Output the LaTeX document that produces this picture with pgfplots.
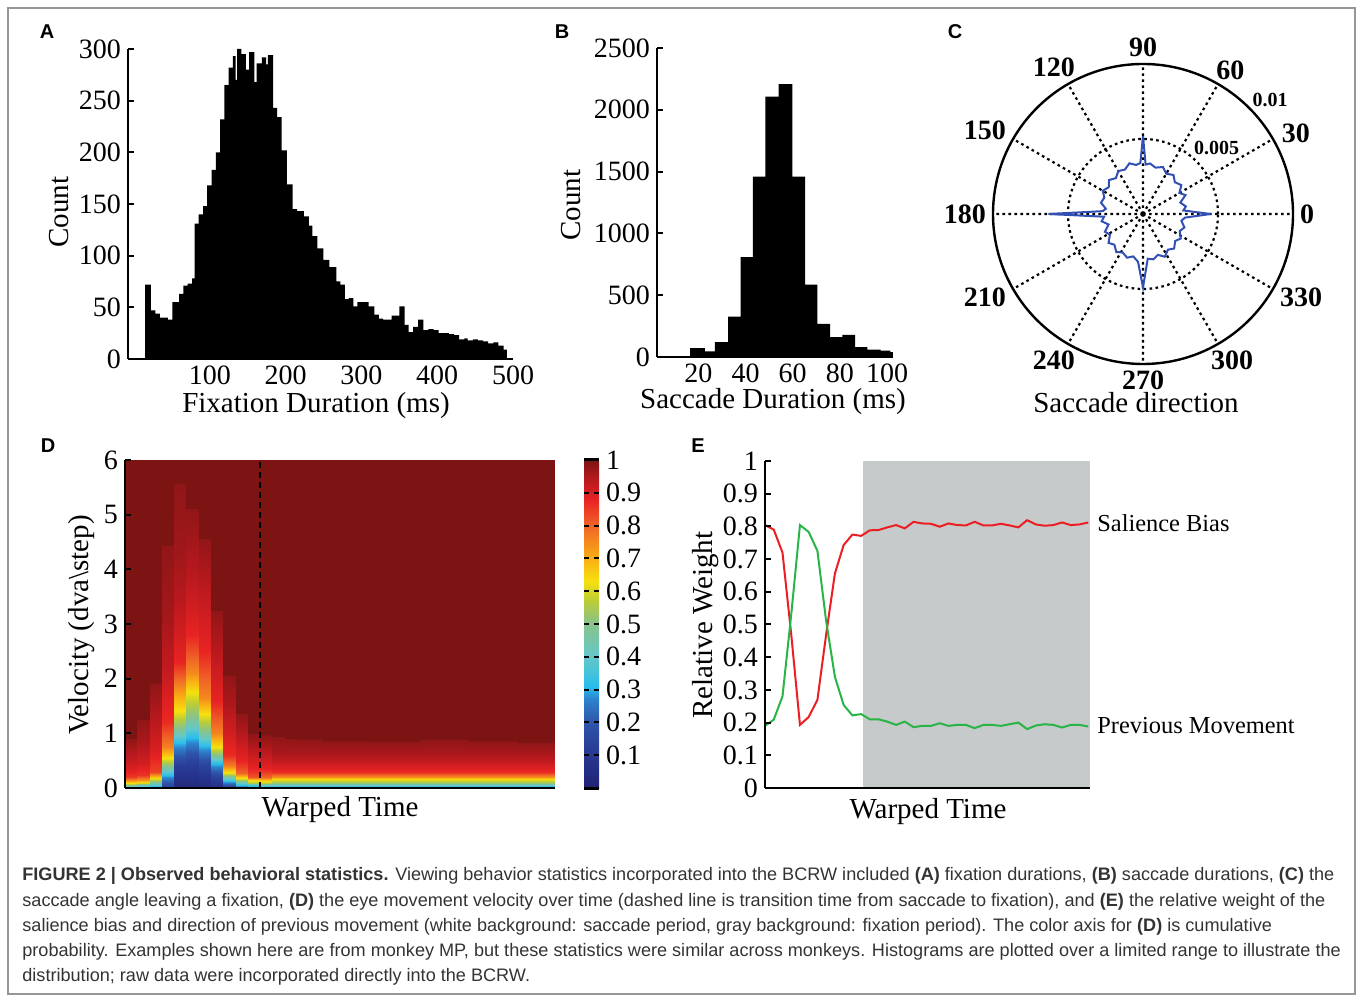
\documentclass[border=0pt]{standalone}
\usepackage{fontspec}
\setmainfont{Liberation Serif}
\newfontfamily\arial{Liberation Sans}
\usepackage{pgfplots}
\usepgfplotslibrary{polar}
\pgfplotsset{compat=1.18}
\definecolor{capgray}{RGB}{51,51,51}
\definecolor{framegray}{RGB}{150,150,150}
\definecolor{fixgray}{RGB}{198,202,202}
\definecolor{cblue}{RGB}{50,80,180}
\definecolor{sred}{RGB}{235,30,35}
\definecolor{pgreen}{RGB}{40,180,70}
\pgfplotsset{
  colormap={bcrw}{rgb255(0pt)=(30,35,115) rgb255(10pt)=(40,55,145) rgb255(20pt)=(45,85,170)
    rgb255(27pt)=(45,130,205) rgb255(31pt)=(40,190,235) rgb255(40pt)=(100,200,200)
    rgb255(50pt)=(135,195,140) rgb255(57pt)=(185,205,55) rgb255(63pt)=(245,225,15)
    rgb255(70pt)=(250,175,20) rgb255(80pt)=(240,100,40) rgb255(88pt)=(232,35,35)
    rgb255(94pt)=(185,25,30) rgb255(100pt)=(125,20,20)},
  mat/.style={scale only axis, axis x line*=bottom, axis y line*=left,
    axis line style={line width=1.3pt, -}, tick align=inside, major tick length=3pt,
    tick style={line width=1pt, black}, xtick style={draw=none},
    tick label style={font=\fontsize{14}{14}\selectfont}},
}
\newcommand{\lab}{\fontsize{14.5}{14.5}\selectfont}
\newcommand{\capfont}{\arial\fontsize{9.05}{10}\selectfont\color{capgray}}

\begin{document}
% picture units: 1 unit = one pixel of the 1358x995 reference, y measured from the bottom
\begin{tikzpicture}[x=0.5pt, y=0.5pt]
\useasboundingbox (0,0) rectangle (1358,995);
\draw[framegray, line width=0.75pt] (8,1) rectangle (1355,987);
\foreach \l/\px/\py in {A/47/963, B/562/963, C/955/963, D/48/549, E/698/549}
  \node[font=\arial\bfseries\fontsize{10}{10}\selectfont] at (\px,\py) {\l};

% ---- A: fixation durations
\begin{axis}[mat, at={(64pt,318pt)}, anchor=south west, width=192.5pt, height=155pt,
  xmin=-8, xmax=500, ymin=0, ymax=300,
  xtick={100,200,300,400,500}, xticklabels={100,200,300,400,500},
  ytick={0,50,100,150,200,250,300}, yticklabels={0,50,100,150,200,250,300}]
\addplot[fill=black, draw=none, const plot] coordinates {
  (14.5,72)(22.2,47)(28.0,44)(33.9,40)(39.3,40)(44.7,38)(50.6,55)(59.6,63)(65.0,71)(70.8,73)
  (76.7,78)(79.8,131)(85.2,140)(91.1,148)(96.5,168)(102.4,183)(107.8,200)(113.6,232)(119.0,265)
  (124.9,282)(130.3,293)(133.9,270)(136.1,300)(141.5,295)(147.4,280)(151.9,297)(158.7,268)
  (161.8,286)(168.6,292)(174.4,285)(176.7,294)(183.4,243)(188.8,234)(194.7,202)(201.5,169)
  (209.1,145)(215.0,143)(224.0,138)(230.7,129)(235.2,119)(242.0,107)(249.7,96)(257.8,89)
  (266.8,75)(272.2,72)(278.0,58)(283.4,59)(289.3,51)(294.7,55)(300.6,55)(309.6,51)(317.2,43)
  (323.1,39)(328.5,38)(334.3,38)(339.7,42)(350.1,51)(356.9,33)(362.3,26)(368.1,31)(374.9,38)
  (381.6,28)(388.4,29)(395.2,28)(401.9,25)(408.7,25)(415.4,24)(422.2,23)(428.9,19)(435.7,20)
  (440.2,18)(447.0,19)(453.7,18)(460.5,17)(467.3,15)(474.0,16)(480.8,13)(487.5,9)(492.0,9)
} \closedcycle;
\end{axis}
\node[font=\lab] at (316,589) {Fixation Duration (ms)};
\node[font=\lab, rotate=90] at (59,783) {Count};

% ---- B: saccade durations
\begin{axis}[mat, at={(328.5pt,319pt)}, anchor=south west, width=118pt, height=154.5pt,
  xmin=2.5, xmax=102.5, ymin=0, ymax=2500,
  xtick={20,40,60,80,100}, xticklabels={20,40,60,80,100},
  ytick={0,500,1000,1500,2000,2500}, yticklabels={0,500,1000,1500,2000,2500}]
\addplot[fill=black, draw=none, const plot] coordinates {
  (16.5,72)(22.8,45)(27,120)(32.6,327)(37.9,808)(43.1,1459)(48.4,2107)(54,2208)(59.9,1459)
  (65.3,586)(70.5,268)(75.8,161)(81,179)(86.4,80)(91.6,59)(97.2,51)(101.4,40)(102.4,40)
} \closedcycle;
\end{axis}
\node[font=\lab] at (773,593) {Saccade Duration (ms)};
\node[font=\lab, rotate=90] at (571,790) {Count};

% ---- C: saccade direction
\begin{polaraxis}[at={(571.5pt,390.5pt)}, anchor=center, scale only axis, width=150pt, height=150pt,
  ymin=0, ymax=0.01, xtick={0,30,...,330},
  xticklabels={0,30,60,90,120,150,180,210,240,270,300,330},
  ytick={0.005}, yticklabels={}, scaled y ticks=false, grid=major,
  major grid style={black, line width=1.1pt, dash pattern=on 1.3pt off 1.7pt},
  x axis line style={line width=1.2pt}, y axis line style={draw=none}, major tick length=0pt,
  xticklabel style={font=\bfseries\fontsize{14}{14}\selectfont,
    yshift={-4.6pt*abs(sin(2*\tick))*sin(\tick)/max(abs(sin(\tick)),0.01)}},
  clip=false]
\addplot[cblue, line width=1pt, no markers] coordinates {
  (0,0.0045)(5,0.0027)(10,0.0029)(17,0.0026)(24,0.0031)(30,0.0028)(37,0.0032)(45,0.003)
  (52,0.0033)(60,0.0031)(67,0.0034)(75,0.0032)(82,0.0034)(87,0.0033)(90,0.0052)(93,0.0034)
  (98,0.0033)(105,0.0035)(112,0.0032)(120,0.0033)(127,0.003)(135,0.0032)(142,0.0029)
  (150,0.0031)(157,0.0028)(165,0.0029)(172,0.0025)(176,0.0027)(180,0.0063)(184,0.0026)
  (190,0.0028)(197,0.0024)(205,0.0028)(212,0.0026)(220,0.003)(227,0.0028)(235,0.0031)
  (242,0.0029)(250,0.0031)(257,0.0029)(264,0.0032)(270,0.0049)(276,0.003)(283,0.0031)
  (290,0.0029)(297,0.0032)(305,0.0029)(312,0.0031)(320,0.0028)(327,0.003)(335,0.0027)
  (342,0.0029)(350,0.0026)(355,0.0028)(360,0.0045)};
\node[font=\bfseries\fontsize{10}{10}\selectfont] at (axis cs:42,0.0066) {0.005};
\node[font=\bfseries\fontsize{10}{10}\selectfont] at (axis cs:42,0.0114) {0.01};
\end{polaraxis}
\node[font=\lab] at (1136,592) {Saccade direction};

% ---- D: velocity over warped time (cumulative probability)
\begin{axis}[mat, at={(62.5pt,103.5pt)}, anchor=south west, width=215pt, height=164pt,
  xmin=0, xmax=35, ymin=0, ymax=6, xtick=\empty,
  ytick={0,1,2,3,4,5,6}, yticklabels={0,1,2,3,4,5,6},
  axis on top, enlargelimits=false, colormap name=bcrw,
  point meta min=0, point meta max=1, colorbar,
  colorbar style={at={(parent axis.north east)}, anchor=north west, xshift=6pt,
    scale only axis, width=7.5pt, height=164pt,
    ytick={0.1,0.2,0.3,0.4,0.5,0.6,0.7,0.8,0.9,1},
    yticklabels={0.1,0.2,0.3,0.4,0.5,0.6,0.7,0.8,0.9,1},
    ytick pos=both, yticklabel pos=right, tick align=inside, major tick length=2.6pt,
    ytick style={black, line width=1pt}, axis line style={draw=none},
    yticklabel style={font=\fontsize{14}{14}\selectfont},
    extra description/.code={
      \draw[line width=1.5pt] (rel axis cs:0,0)--(rel axis cs:1,0);
      \draw[line width=1.5pt] (rel axis cs:0,1)--(rel axis cs:1,1);}}]
\addplot[surf, shader=interp, mesh/ordering=y varies, mesh/rows=11, mesh/cols=40,
  point meta=explicit] table[meta=c, row sep=\\] {
x y c\\
0 0 0.30\\ 0 0.04 0.42\\ 0 0.08 0.58\\ 0 0.13 0.72\\ 0 0.2 0.85\\ 0 0.35 0.9\\ 0 0.6 0.94\\ 0 0.75 0.96\\ 0 0.9 0.98\\ 0 0.92 1\\ 0 6 1\\
1 0 0.30\\ 1 0.04 0.42\\ 1 0.08 0.58\\ 1 0.13 0.72\\ 1 0.2 0.85\\ 1 0.35 0.9\\ 1 0.6 0.94\\ 1 0.75 0.96\\ 1 0.9 0.98\\ 1 0.92 1\\ 1 6 1\\
1 0 0.30\\ 1 0.05 0.42\\ 1 0.1 0.6\\ 1 0.15 0.74\\ 1 0.24 0.86\\ 1 0.45 0.91\\ 1 0.8 0.95\\ 1 1.0 0.965\\ 1 1.24 0.98\\ 1 1.26 1\\ 1 6 1\\
2 0 0.30\\ 2 0.05 0.42\\ 2 0.1 0.6\\ 2 0.15 0.74\\ 2 0.24 0.86\\ 2 0.45 0.91\\ 2 0.8 0.95\\ 2 1.0 0.965\\ 2 1.24 0.98\\ 2 1.26 1\\ 2 6 1\\
2 0 0.22\\ 2 0.08 0.42\\ 2 0.18 0.64\\ 2 0.3 0.84\\ 2 0.7 0.9\\ 2 1.1 0.93\\ 2 1.4 0.95\\ 2 1.65 0.965\\ 2 1.9 0.98\\ 2 1.92 1\\ 2 6 1\\
3 0 0.22\\ 3 0.08 0.42\\ 3 0.18 0.64\\ 3 0.3 0.84\\ 3 0.7 0.9\\ 3 1.1 0.93\\ 3 1.4 0.95\\ 3 1.65 0.965\\ 3 1.9 0.98\\ 3 1.92 1\\ 3 6 1\\
3 0 0.12\\ 3 0.2 0.28\\ 3 0.4 0.5\\ 3 0.55 0.63\\ 3 0.75 0.76\\ 3 1.2 0.87\\ 3 2.2 0.93\\ 3 3.1 0.96\\ 3 4.43 0.98\\ 3 4.45 1\\ 3 6 1\\
4 0 0.12\\ 4 0.2 0.28\\ 4 0.4 0.5\\ 4 0.55 0.63\\ 4 0.75 0.76\\ 4 1.2 0.87\\ 4 2.2 0.93\\ 4 3.1 0.96\\ 4 4.43 0.98\\ 4 4.45 1\\ 4 6 1\\
4 0 0.03\\ 4 0.4 0.12\\ 4 0.8 0.3\\ 4 1.1 0.5\\ 4 1.4 0.63\\ 4 2.3 0.88\\ 4 3.4 0.94\\ 4 4.27 0.965\\ 4 5.56 0.98\\ 4 5.58 1\\ 4 6 1\\
5 0 0.03\\ 5 0.4 0.12\\ 5 0.8 0.3\\ 5 1.1 0.5\\ 5 1.4 0.63\\ 5 2.3 0.88\\ 5 3.4 0.94\\ 5 4.27 0.965\\ 5 5.56 0.98\\ 5 5.58 1\\ 5 6 1\\
5 0 0.03\\ 5 0.5 0.14\\ 5 0.9 0.3\\ 5 1.3 0.5\\ 5 1.75 0.63\\ 5 2.1 0.75\\ 5 2.8 0.88\\ 5 3.84 0.94\\ 5 5.1 0.98\\ 5 5.12 1\\ 5 6 1\\
6 0 0.03\\ 6 0.5 0.14\\ 6 0.9 0.3\\ 6 1.3 0.5\\ 6 1.75 0.63\\ 6 2.1 0.75\\ 6 2.8 0.88\\ 6 3.84 0.94\\ 6 5.1 0.98\\ 6 5.12 1\\ 6 6 1\\
6 0 0.04\\ 6 0.4 0.14\\ 6 0.75 0.3\\ 6 1.05 0.5\\ 6 1.35 0.63\\ 6 1.65 0.75\\ 6 2.5 0.88\\ 6 3.69 0.94\\ 6 4.55 0.98\\ 6 4.57 1\\ 6 6 1\\
7 0 0.04\\ 7 0.4 0.14\\ 7 0.75 0.3\\ 7 1.05 0.5\\ 7 1.35 0.63\\ 7 1.65 0.75\\ 7 2.5 0.88\\ 7 3.69 0.94\\ 7 4.55 0.98\\ 7 4.57 1\\ 7 6 1\\
7 0 0.06\\ 7 0.2 0.14\\ 7 0.45 0.32\\ 7 0.6 0.5\\ 7 0.75 0.63\\ 7 1.0 0.76\\ 7 1.6 0.88\\ 7 2.5 0.94\\ 7 3.23 0.98\\ 7 3.25 1\\ 7 6 1\\
8 0 0.06\\ 8 0.2 0.14\\ 8 0.45 0.32\\ 8 0.6 0.5\\ 8 0.75 0.63\\ 8 1.0 0.76\\ 8 1.6 0.88\\ 8 2.5 0.94\\ 8 3.23 0.98\\ 8 3.25 1\\ 8 6 1\\
8 0 0.12\\ 8 0.08 0.22\\ 8 0.15 0.35\\ 8 0.27 0.62\\ 8 0.4 0.76\\ 8 0.6 0.87\\ 8 1.0 0.91\\ 8 1.5 0.95\\ 8 2.04 0.98\\ 8 2.06 1\\ 8 6 1\\
9 0 0.12\\ 9 0.08 0.22\\ 9 0.15 0.35\\ 9 0.27 0.62\\ 9 0.4 0.76\\ 9 0.6 0.87\\ 9 1.0 0.91\\ 9 1.5 0.95\\ 9 2.04 0.98\\ 9 2.06 1\\ 9 6 1\\
9 0 0.2\\ 9 0.06 0.32\\ 9 0.12 0.5\\ 9 0.18 0.63\\ 9 0.27 0.8\\ 9 0.5 0.88\\ 9 0.8 0.92\\ 9 1.1 0.955\\ 9 1.36 0.98\\ 9 1.38 1\\ 9 6 1\\
10 0 0.2\\ 10 0.06 0.32\\ 10 0.12 0.5\\ 10 0.18 0.63\\ 10 0.27 0.8\\ 10 0.5 0.88\\ 10 0.8 0.92\\ 10 1.1 0.955\\ 10 1.36 0.98\\ 10 1.38 1\\ 10 6 1\\
10 0 0.25\\ 10 0.05 0.35\\ 10 0.1 0.55\\ 10 0.14 0.65\\ 10 0.2 0.82\\ 10 0.35 0.88\\ 10 0.6 0.92\\ 10 0.8 0.955\\ 10 0.99 0.98\\ 10 1.01 1\\ 10 6 1\\
11 0 0.25\\ 11 0.05 0.35\\ 11 0.1 0.55\\ 11 0.14 0.65\\ 11 0.2 0.82\\ 11 0.35 0.88\\ 11 0.6 0.92\\ 11 0.8 0.955\\ 11 0.99 0.98\\ 11 1.01 1\\ 11 6 1\\
11 0 0.27\\ 11 0.05 0.4\\ 11 0.1 0.57\\ 11 0.15 0.68\\ 11 0.2 0.8\\ 11 0.35 0.88\\ 11 0.6 0.93\\ 11 0.8 0.96\\ 11 0.96 0.98\\ 11 0.98 1\\ 11 6 1\\
12 0 0.27\\ 12 0.05 0.4\\ 12 0.1 0.57\\ 12 0.15 0.68\\ 12 0.2 0.8\\ 12 0.35 0.88\\ 12 0.6 0.93\\ 12 0.8 0.96\\ 12 0.96 0.98\\ 12 0.98 1\\ 12 6 1\\
12 0 0.25\\ 12 0.05 0.4\\ 12 0.1 0.52\\ 12 0.16 0.64\\ 12 0.2 0.74\\ 12 0.3 0.87\\ 12 0.5 0.93\\ 12 0.68 0.96\\ 12 0.93 0.98\\ 12 0.95 1\\ 12 6 1\\
13 0 0.25\\ 13 0.05 0.4\\ 13 0.1 0.52\\ 13 0.16 0.64\\ 13 0.2 0.74\\ 13 0.3 0.87\\ 13 0.5 0.93\\ 13 0.68 0.96\\ 13 0.93 0.98\\ 13 0.95 1\\ 13 6 1\\
13 0 0.25\\ 13 0.05 0.4\\ 13 0.1 0.52\\ 13 0.16 0.64\\ 13 0.2 0.74\\ 13 0.3 0.87\\ 13 0.5 0.93\\ 13 0.68 0.96\\ 13 0.9 0.98\\ 13 0.92 1\\ 13 6 1\\
14 0 0.25\\ 14 0.05 0.4\\ 14 0.1 0.52\\ 14 0.16 0.64\\ 14 0.2 0.74\\ 14 0.3 0.87\\ 14 0.5 0.93\\ 14 0.68 0.96\\ 14 0.9 0.98\\ 14 0.92 1\\ 14 6 1\\
14 0 0.25\\ 14 0.05 0.4\\ 14 0.1 0.52\\ 14 0.16 0.64\\ 14 0.2 0.74\\ 14 0.3 0.87\\ 14 0.5 0.93\\ 14 0.68 0.96\\ 14 0.88 0.98\\ 14 0.9 1\\ 14 6 1\\
16 0 0.25\\ 16 0.05 0.4\\ 16 0.1 0.52\\ 16 0.16 0.64\\ 16 0.2 0.74\\ 16 0.3 0.87\\ 16 0.5 0.93\\ 16 0.68 0.96\\ 16 0.88 0.98\\ 16 0.9 1\\ 16 6 1\\
16 0 0.25\\ 16 0.05 0.4\\ 16 0.1 0.52\\ 16 0.16 0.64\\ 16 0.2 0.74\\ 16 0.3 0.87\\ 16 0.5 0.93\\ 16 0.68 0.96\\ 16 0.85 0.98\\ 16 0.87 1\\ 16 6 1\\
20 0 0.25\\ 20 0.05 0.4\\ 20 0.1 0.52\\ 20 0.16 0.64\\ 20 0.2 0.74\\ 20 0.3 0.87\\ 20 0.5 0.93\\ 20 0.68 0.96\\ 20 0.85 0.98\\ 20 0.87 1\\ 20 6 1\\
20 0 0.25\\ 20 0.05 0.4\\ 20 0.1 0.52\\ 20 0.16 0.64\\ 20 0.2 0.74\\ 20 0.3 0.87\\ 20 0.5 0.93\\ 20 0.68 0.96\\ 20 0.84 0.98\\ 20 0.86 1\\ 20 6 1\\
24 0 0.25\\ 24 0.05 0.4\\ 24 0.1 0.52\\ 24 0.16 0.64\\ 24 0.2 0.74\\ 24 0.3 0.87\\ 24 0.5 0.93\\ 24 0.68 0.96\\ 24 0.84 0.98\\ 24 0.86 1\\ 24 6 1\\
24 0 0.25\\ 24 0.05 0.4\\ 24 0.1 0.52\\ 24 0.16 0.64\\ 24 0.2 0.74\\ 24 0.3 0.87\\ 24 0.5 0.93\\ 24 0.68 0.96\\ 24 0.87 0.98\\ 24 0.89 1\\ 24 6 1\\
28 0 0.25\\ 28 0.05 0.4\\ 28 0.1 0.52\\ 28 0.16 0.64\\ 28 0.2 0.74\\ 28 0.3 0.87\\ 28 0.5 0.93\\ 28 0.68 0.96\\ 28 0.87 0.98\\ 28 0.89 1\\ 28 6 1\\
28 0 0.25\\ 28 0.05 0.4\\ 28 0.1 0.52\\ 28 0.16 0.64\\ 28 0.2 0.74\\ 28 0.3 0.87\\ 28 0.5 0.93\\ 28 0.68 0.96\\ 28 0.85 0.98\\ 28 0.87 1\\ 28 6 1\\
32 0 0.25\\ 32 0.05 0.4\\ 32 0.1 0.52\\ 32 0.16 0.64\\ 32 0.2 0.74\\ 32 0.3 0.87\\ 32 0.5 0.93\\ 32 0.68 0.96\\ 32 0.85 0.98\\ 32 0.87 1\\ 32 6 1\\
32 0 0.25\\ 32 0.05 0.4\\ 32 0.1 0.52\\ 32 0.16 0.64\\ 32 0.2 0.74\\ 32 0.3 0.87\\ 32 0.5 0.93\\ 32 0.68 0.96\\ 32 0.82 0.98\\ 32 0.84 1\\ 32 6 1\\
35 0 0.25\\ 35 0.05 0.4\\ 35 0.1 0.52\\ 35 0.16 0.64\\ 35 0.2 0.74\\ 35 0.3 0.87\\ 35 0.5 0.93\\ 35 0.68 0.96\\ 35 0.82 0.98\\ 35 0.84 1\\ 35 6 1\\
};
\addplot[black, line width=1.2pt, dash pattern=on 3pt off 2pt] coordinates {(11,0)(11,6)};
\end{axis}
\node[font=\lab] at (340,185) {Warped Time};
\node[font=\lab, rotate=90] at (82,370) {Velocity (dva\textbackslash step)};

% ---- E: relative weights
\begin{axis}[mat, at={(382.5pt,103.5pt)}, anchor=south west, width=162.5pt, height=163.5pt,
  xmin=0, xmax=37.2, ymin=0, ymax=1, xtick=\empty,
  ytick={0,0.1,0.2,0.3,0.4,0.5,0.6,0.7,0.8,0.9,1},
  yticklabels={0,0.1,0.2,0.3,0.4,0.5,0.6,0.7,0.8,0.9,1},
  axis on top, clip=false]
\fill[fixgray] (axis cs:11.2,0) rectangle (axis cs:37.2,1);
\addplot[sred, line width=1pt, no markers] coordinates {
  (0,0.804)(1,0.79)(2,0.72)(3,0.47)(4,0.193)(5,0.217)(6,0.27)(7,0.47)(8,0.656)(9,0.743)
  (10,0.775)(11,0.771)(12,0.788)(13,0.789)(14,0.797)(15,0.804)(16,0.794)(17,0.814)(18,0.809)
  (19,0.808)(20,0.799)(21,0.809)(22,0.804)(23,0.803)(24,0.814)(25,0.803)(26,0.803)(27,0.808)
  (28,0.803)(29,0.797)(30,0.819)(31,0.806)(32,0.802)(33,0.804)(34,0.812)(35,0.804)(36,0.806)(37,0.812)};
\addplot[pgreen, line width=1pt, no markers] coordinates {
  (0,0.19)(1,0.209)(2,0.28)(3,0.53)(4,0.804)(5,0.783)(6,0.725)(7,0.51)(8,0.34)(9,0.254)
  (10,0.222)(11,0.226)(12,0.21)(13,0.21)(14,0.203)(15,0.193)(16,0.203)(17,0.186)(18,0.19)
  (19,0.19)(20,0.198)(21,0.19)(22,0.193)(23,0.193)(24,0.183)(25,0.193)(26,0.193)(27,0.19)
  (28,0.195)(29,0.2)(30,0.18)(31,0.191)(32,0.195)(33,0.193)(34,0.185)(35,0.193)(36,0.193)(37,0.188)};
\node[anchor=west, inner sep=0pt, font=\fontsize{12.2}{12.2}\selectfont] at (axis cs:38,0.81) {Salience Bias};
\node[anchor=west, inner sep=0pt, font=\fontsize{12.2}{12.2}\selectfont] at (axis cs:38,0.19) {Previous Movement};
\end{axis}
\node[font=\lab] at (928,183) {Warped Time};
\node[font=\lab, rotate=90] at (706,370) {Relative Weight};

% ---- caption
\node[anchor=base west, inner sep=0pt, font=\capfont] at (22,114) {\textbf{FIGURE 2 | Observed behavioral statistics.} Viewing behavior statistics incorporated into the BCRW included \textbf{(A)} fixation durations, \textbf{(B)} saccade durations, \textbf{(C)} the};
\node[anchor=base west, inner sep=0pt, font=\capfont] at (22,89) {saccade angle leaving a fixation, \textbf{(D)} the eye movement velocity over time (dashed line is transition time from saccade to fixation), and \textbf{(E)} the relative weight of the};
\node[anchor=base west, inner sep=0pt, font=\capfont] at (22,64) {salience bias and direction of previous movement (white background: saccade period, gray background: fixation period). The color axis for \textbf{(D)} is cumulative};
\node[anchor=base west, inner sep=0pt, font=\capfont] at (22,39) {probability. Examples shown here are from monkey MP, but these statistics were similar across monkeys. Histograms are plotted over a limited range to illustrate the};
\node[anchor=base west, inner sep=0pt, font=\capfont] at (22,14) {distribution; raw data were incorporated directly into the BCRW.};
\end{tikzpicture}
\end{document}
